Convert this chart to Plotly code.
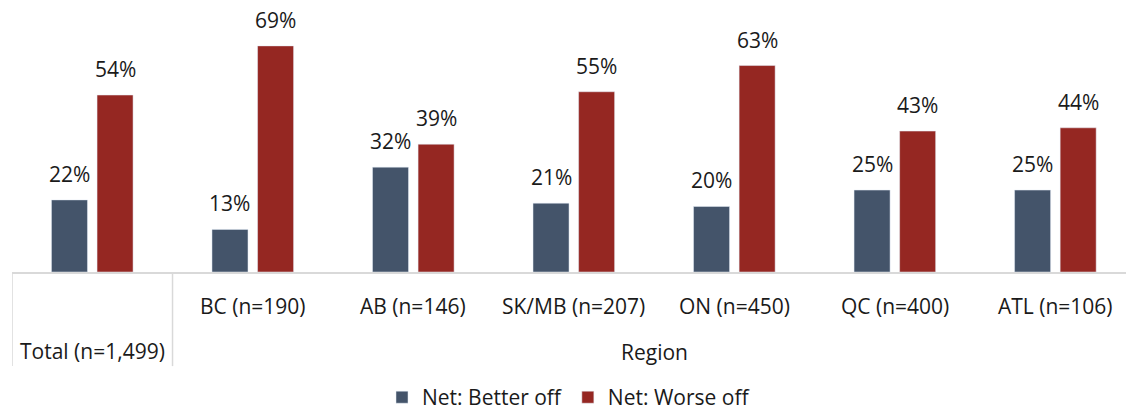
import plotly.graph_objects as go

# chart data
categories = ["Total (n=1,499)", "BC (n=190)", "AB (n=146)", "SK/MB (n=207)",
              "ON (n=450)", "QC (n=400)", "ATL (n=106)"]
better_off = [22, 13, 32, 21, 20, 25, 25]
worse_off = [54, 69, 39, 55, 63, 43, 44]
group_label = "Region"

FONT = "Open Sans"
BLUE = "#44546A"
RED = "#952722"
GRID = "#D9D9D9"
TXT = "#1a1a1a"
FS = 21

fig = go.Figure()
fig.add_trace(go.Bar(x=list(range(len(categories))), y=better_off, name="Net: Better off",
                     marker=dict(color=BLUE)))
fig.add_trace(go.Bar(x=list(range(len(categories))), y=worse_off, name="Net: Worse off",
                     marker=dict(color=RED)))

annotations = []
# value labels above each bar (offset to the left/right bar of the pair)
for i, (b, w) in enumerate(zip(better_off, worse_off)):
    annotations.append(dict(x=i, y=b, text=f"{b}%", xshift=-22.8))
    annotations.append(dict(x=i, y=w, text=f"{w}%", xshift=22.8))
for a in annotations:
    a.update(xref="x", yref="y", showarrow=False, yanchor="bottom", yshift=10,
             font=dict(size=FS, color=TXT, family=FONT))

# category labels: regions on the upper row, Total and group name on the lower row
cat_ann = []
for i, c in enumerate(categories):
    if i == 0:
        cat_ann.append(dict(x=i, y=-0.29, text=c))
    else:
        cat_ann.append(dict(x=i, y=-0.125, text=c))
cat_ann.append(dict(x=(1 + len(categories) - 1) / 2, y=-0.295, text=group_label))
for a in cat_ann:
    a.update(xref="x", yref="paper", showarrow=False, yanchor="middle",
             font=dict(size=FS, color=TXT, family=FONT))

# separator lines below the axis
shapes = []
for xv in [-0.5, 0.5]:
    shapes.append(dict(type="line", xref="x", yref="paper", x0=xv, x1=xv,
                       y0=0, y1=-0.346, line=dict(color=GRID, width=1.5)))

fig.update_layout(
    width=1126, height=412,
    margin=dict(l=12, r=0, t=0, b=140, autoexpand=False),
    plot_bgcolor="white", paper_bgcolor="white",
    barmode="group", bargap=0.432, bargroupgap=0.21,
    font=dict(family=FONT, size=FS, color=TXT),
    showlegend=True,
    legend=dict(orientation="h", x=0.5, xanchor="center", y=-0.537, yanchor="bottom",
                font=dict(size=FS, family=FONT), itemwidth=30, traceorder="normal"),
    annotations=annotations + cat_ann,
    shapes=shapes,
)
fig.update_xaxes(showticklabels=False, showline=True, linecolor=GRID, linewidth=1.5,
                 ticks="", showgrid=False, range=[-0.5, 6.44])
fig.update_yaxes(visible=False, range=[0, 83], showgrid=False)

# drop the default page margin so the figure sits at the window's corner
fig.write_html("out.html", config={"displayModeBar": False},
               post_script="document.body.style.margin='0';")
